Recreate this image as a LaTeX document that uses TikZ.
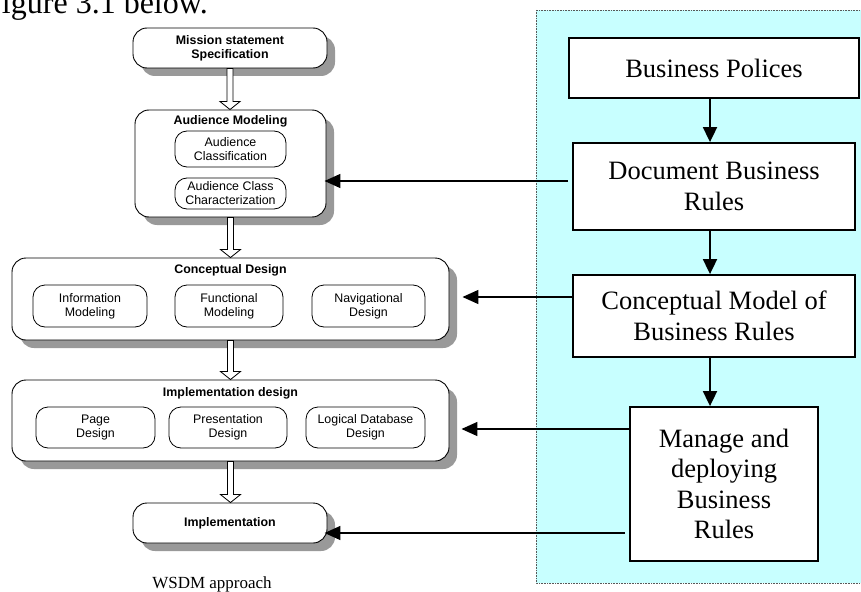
\documentclass[tikz,border=0pt]{standalone}
\usepackage{fontspec}
\setmainfont{Liberation Serif}
\setsansfont{Liberation Sans}
\usetikzlibrary{arrows.meta,calc,shadows}

\definecolor{panelcyan}{RGB}{200,255,255}
\definecolor{shadowgray}{RGB}{153,153,153}

\tikzset{
  stage/.style={draw, line width=0.9pt, rounded corners=14pt, fill=white,
    drop shadow={shadow xshift=8pt, shadow yshift=-8pt, fill=shadowgray, opacity=1},
    font=\sffamily\bfseries\fontsize{12.4}{14}\selectfont, align=center, inner sep=0pt},
  stagetitle/.style={font=\sffamily\bfseries\fontsize{12.4}{14}\selectfont, inner sep=0pt},
  activity/.style={draw, line width=0.8pt, rounded corners=12pt, fill=white,
    font=\sffamily\fontsize{12.4}{14}\selectfont, align=center, inner sep=0pt},
  rulebox/.style={draw, line width=1.8pt, fill=white,
    font=\rmfamily\fontsize{26.5}{30.5}\selectfont, align=center, inner sep=0pt},
  hollow/.style={draw, line width=0.8pt, fill=white},
  flow/.style={line width=1.8pt, -{Triangle[length=15pt,width=14pt]}},
  feed/.style={line width=1.5pt, -{Triangle[length=16pt,width=14pt]}},
}

% open block arrow from the bottom of one stage to the top of the next
\newcommand\hollowflow[2]{%
  \draw[hollow] let \p1=(#1.south), \p2=(#2.north) in
    (\x1-3pt,\y1) -- (\x1-3pt,\y2+8pt) -- (\x1-10pt,\y2+8pt) -- (\x1,\y2) --
    (\x1+10pt,\y2+8pt) -- (\x1+3pt,\y2+8pt) -- (\x1+3pt,\y1) -- cycle;}

\begin{document}
\begin{tikzpicture}[x=1pt,y=-1pt]
\useasboundingbox (0,0) rectangle (861,591);
\clip (0,0) rectangle (861,591);

% running text of the page
\node[anchor=base west, inner sep=0pt, font=\rmfamily\fontsize{32}{36}\selectfont]
  (caption) at (-16,13.5) {Figure 3.1 below.};

% business rules panel
\fill[panelcyan] (536,10) rectangle (880,583);
\draw[gray!70!black, densely dotted, line width=0.6pt] (536,10) rectangle (880,583);

% WSDM stages
\node[stage, minimum width=194pt, minimum height=40pt] (mission) at (230,48)
  {Mission statement\\Specification};

\node[stage, minimum width=191pt, minimum height=107pt] (audience) at (230.5,163.5) {};
\node[stagetitle] (audT) at (230.5,121) {Audience Modeling};
\node[activity, minimum width=111pt, minimum height=36pt] (audC) at (230.5,149)
  {Audience\\Classification};
\node[activity, minimum width=111pt, minimum height=31pt] (audX) at (230.5,193.5)
  {Audience Class\\Characterization};

\node[stage, minimum width=437pt, minimum height=82pt] (concept) at (230.5,299) {};
\node[stagetitle] (conT) at (230.5,270) {Conceptual Design};
\node[activity, minimum width=114pt, minimum height=42pt] (info) at (90,306)
  {Information\\Modeling};
\node[activity, minimum width=108pt, minimum height=42pt] (func) at (229,306)
  {Functional\\Modeling};
\node[activity, minimum width=113pt, minimum height=42pt] (navi) at (368.5,306)
  {Navigational\\Design};

\node[stage, minimum width=437pt, minimum height=81pt] (impldes) at (230.5,420.5) {};
\node[stagetitle] (impT) at (230.5,393) {Implementation design};
\node[activity, minimum width=119pt, minimum height=41pt] (page) at (95.5,427.5)
  {Page\\Design};
\node[activity, minimum width=118pt, minimum height=41pt] (pres) at (228,427.5)
  {Presentation\\Design};
\node[activity, minimum width=119pt, minimum height=41pt] (ldb) at (365.5,427.5)
  {Logical Database\\Design};

\node[stage, minimum width=194pt, minimum height=40pt] (impl) at (230,523)
  {Implementation};

\node[anchor=base, inner sep=0pt, font=\rmfamily\fontsize{17}{20}\selectfont]
  (wsdm) at (212,588) {WSDM approach};

\hollowflow{mission}{audience}
\hollowflow{audience}{concept}
\hollowflow{concept}{impldes}
\hollowflow{impldes}{impl}

% business rules chain
\node[rulebox, minimum width=290pt, minimum height=60pt] (pol) at (714,68)
  {Business Polices};
\node[rulebox, minimum width=282pt, minimum height=87pt] (doc) at (714,186.5)
  {Document Business\\Rules};
\node[rulebox, minimum width=282pt, minimum height=82pt] (cmod) at (714,316)
  {Conceptual Model of\\Business Rules};
\node[rulebox, minimum width=188pt, minimum height=154pt] (mng) at (724,484)
  {Manage and\\deploying\\Business\\Rules};

\coordinate (spine) at (710,0);
\draw[flow] (pol.south -| spine) -- (doc.north -| spine);
\draw[flow] (doc.south -| spine) -- (cmod.north -| spine);
\draw[flow] (cmod.south -| spine) -- (mng.north -| spine);

% rules feeding the WSDM stages
\coordinate (f1) at (568,181);
\coordinate (f4) at (625,533);
\draw[feed] (f1) -- ([xshift=-2pt]audience.east |- f1);
\draw[feed] (cmod.west |- 0,297) -- ([xshift=13pt]concept.east |- 0,297);
\draw[feed] (mng.west |- 0,429) -- ([xshift=12pt]impldes.east |- 0,429);
\draw[feed] (f4) -- ([xshift=-3pt]impl.east |- f4);
\end{tikzpicture}
\end{document}
